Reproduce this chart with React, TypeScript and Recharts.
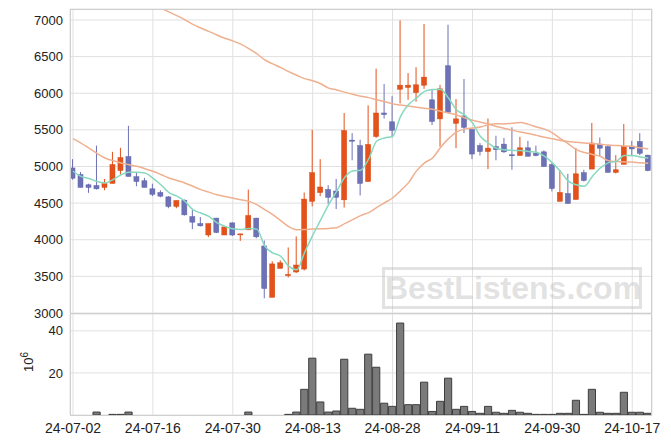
import React from "react";
import {
  ComposedChart, BarChart, Bar, Line, XAxis, YAxis, CartesianGrid,
} from "recharts";

// trading days, 24-07-02 .. 24-10-21
const DATES = [
  "24-07-02", "24-07-03", "24-07-04", "24-07-05", "24-07-08", "24-07-09", "24-07-10", "24-07-11", "24-07-12", "24-07-15",
  "24-07-16", "24-07-17", "24-07-18", "24-07-19", "24-07-22", "24-07-23", "24-07-24", "24-07-25", "24-07-26", "24-07-29",
  "24-07-30", "24-07-31", "24-08-01", "24-08-02", "24-08-05", "24-08-06", "24-08-07", "24-08-08", "24-08-09", "24-08-12",
  "24-08-13", "24-08-14", "24-08-16", "24-08-19", "24-08-20", "24-08-21", "24-08-22", "24-08-23", "24-08-26", "24-08-27",
  "24-08-28", "24-08-29", "24-08-30", "24-09-02", "24-09-03", "24-09-04", "24-09-05", "24-09-06", "24-09-09", "24-09-10",
  "24-09-11", "24-09-12", "24-09-13", "24-09-19", "24-09-20", "24-09-23", "24-09-24", "24-09-25", "24-09-26", "24-09-27",
  "24-09-30", "24-10-02", "24-10-04", "24-10-07", "24-10-08", "24-10-10", "24-10-11", "24-10-14", "24-10-15", "24-10-16",
  "24-10-17", "24-10-18", "24-10-21",
];

const OPEN = [
  4980, 4890, 4750, 4740, 4715, 4770, 4945, 5135, 4860, 4805,
  4695, 4645, 4585, 4455, 4540, 4315, 4220, 4065, 4295, 4065,
  4230, 4075, 4135, 4295, 3915, 3215, 3610, 3510, 3560, 3600,
  4525, 4645, 4685, 4665, 4545, 5360, 5285, 4795, 5410, 5730,
  5610, 6055, 6080, 6010, 6110, 5910, 5650, 6375, 5590, 5690,
  5505, 5285, 5205, 5270, 5305, 5160, 5150, 5255, 5180, 5200,
  5025, 4525, 4630, 4550, 4915, 4965, 5305, 5270, 4920, 5030,
  5270, 5340, 5155,
];
const HIGH = [
  5100, 4925, 4765, 5285, 4830, 5200, 5255, 5555, 4920, 4845,
  4765, 4675, 4595, 4535, 4550, 4405, 4310, 4220, 4300, 4175,
  4240, 4080, 4685, 4300, 3990, 3705, 3720, 3895, 4045, 4645,
  5500, 5100, 4745, 4830, 5730, 5455, 5365, 5835, 6335, 6125,
  5960, 6995, 6275, 6355, 6945, 6050, 6115, 6935, 5920, 6195,
  5505, 5320, 5655, 5420, 5390, 5535, 5405, 5350, 5285, 5220,
  5050, 4950, 4900, 5255, 4955, 5595, 5395, 5290, 5155, 5580,
  5350, 5455, 5160,
];
const LOW = [
  4820, 4715, 4640, 4685, 4675, 4770, 4890, 4865, 4730, 4715,
  4595, 4580, 4430, 4430, 4330, 4145, 4180, 4035, 4090, 4065,
  4050, 3985, 4135, 4020, 3200, 3215, 3610, 3485, 3545, 3580,
  4455, 4595, 4490, 4420, 4440, 5085, 4605, 4795, 5390, 5655,
  5400, 5860, 5910, 5885, 6060, 5565, 5270, 5740, 5250, 5455,
  5100, 5150, 4965, 5085, 5185, 4955, 5150, 5140, 5140, 5000,
  4660, 4525, 4495, 4550, 4795, 4965, 5135, 4920, 4905, 5030,
  5140, 5155, 4935,
];
const CLOSE = [
  4840, 4715, 4715, 4695, 4765, 5025, 5120, 4865, 4795, 4715,
  4620, 4595, 4455, 4535, 4340, 4240, 4190, 4220, 4100, 4175,
  4065, 4080, 4330, 4040, 3335, 3670, 3685, 3525, 3655, 4555,
  4915, 4720, 4580, 4580, 5490, 5345, 4770, 5300, 5730, 5710,
  5495, 6110, 6110, 6115, 6220, 5615, 6060, 5740, 5650, 5535,
  5170, 5205, 5250, 5230, 5200, 5150, 5255, 5140, 5150, 5000,
  4700, 4645, 4495, 4900, 4810, 5320, 5250, 4920, 4955, 5270,
  5240, 5180, 4945,
];

// moving averages as drawn
const MA5 = [
  4935, 4865, 4835, 4795, 4775, 4820, 4885, 4920, 4920, 4910,
  4840, 4750, 4645, 4595, 4525, 4410, 4365, 4320, 4235, 4185,
  4150, 4140, 4155, 4145, 3915, 3820, 3775, 3640, 3590, 3830,
  4060, 4270, 4480, 4660, 4850, 4940, 4950, 5100, 5345, 5390,
  5410, 5685, 5845, 5935, 6025, 6050, 6050, 5935, 5775, 5705,
  5595, 5410, 5320, 5250, 5230, 5220, 5220, 5205, 5195, 5140,
  5050, 4935, 4800, 4750, 4730, 4865, 4980, 5050, 5070, 5150,
  5150, 5130, 5115,
];
const MA20 = [
  5380, 5320, 5250, 5180, 5116, 5080, 5048, 5025, 5002, 4970,
  4934, 4890, 4843, 4810, 4775, 4730, 4684, 4650, 4615, 4590,
  4570, 4545, 4524, 4479, 4410, 4342, 4260, 4180, 4138, 4140,
  4147, 4150, 4155, 4165, 4220, 4274, 4330, 4370, 4440, 4505,
  4570, 4670, 4780, 4940, 5050, 5116, 5260, 5380, 5470, 5510,
  5525, 5540, 5570, 5584, 5580, 5590, 5600, 5575, 5540, 5510,
  5460, 5380, 5310, 5230, 5190, 5165, 5140, 5080, 5068, 5062,
  5060, 5050, 5045,
];
const MA60 = [
  7760, 7710, 7660, 7610, 7560, 7500, 7440, 7380, 7320, 7260,
  7200, 7160, 7110, 7060, 7005, 6940, 6890, 6845, 6795, 6750,
  6715, 6670, 6610, 6540, 6455, 6400, 6350, 6295, 6245, 6200,
  6170, 6130, 6070, 6045, 6015, 5985, 5960, 5940, 5912, 5885,
  5855, 5840, 5825, 5810, 5795, 5780, 5755, 5730, 5705, 5665,
  5630, 5605, 5580, 5545, 5520, 5495, 5470, 5450, 5425, 5400,
  5380, 5355, 5340, 5330, 5320, 5312, 5305, 5292, 5285, 5280,
  5275, 5255, 5240,
];

// volume, millions
const VOLUME = [
  0, 0, 0, 1.4, 0, 0.3, 0.3, 1.4, 0, 0,
  0, 0, 0, 0, 0, 0, 0, 0, 0, 0,
  0, 0, 1.4, 0, 0, 0, 0, 0.3, 1.4, 12.2,
  27.0, 6.2, 1.4, 1.9, 26.5, 3.2, 2.7, 28.9, 22.7, 5.6,
  4.1, 43.7, 4.9, 4.9, 15.6, 1.7, 6.5, 17.5, 2.7, 4.1,
  1.7, 0.8, 4.1, 1.3, 0.8, 2.2, 1.3, 0.8, 0.3, 0.3,
  0.3, 0.8, 0.8, 7.0, 0.3, 12.2, 1.3, 0.8, 0.8, 10.8,
  1.3, 1.3, 0.8,
];

const TICK_IDX = [0, 10, 20, 30, 40, 50, 60, 70];
const PRICE_TICKS = [3000, 3500, 4000, 4500, 5000, 5500, 6000, 6500, 7000];
const VOL_TICKS = [20, 40];

const UP = "#e5511b";
const DOWN = "#6d71b5";
const FONT = "'Liberation Sans', Arial, sans-serif";
const X_DOMAIN: [number, number] = [-0.375, 72.47];

const rows = DATES.map((d, i) => ({
  idx: i,
  date: d,
  open: OPEN[i],
  high: HIGH[i],
  low: LOW[i],
  close: CLOSE[i],
  ma5: MA5[i],
  ma20: MA20[i],
  ma60: MA60[i],
  vol: VOLUME[i],
}));

function Candle(props: any) {
  const { x, y, width, height, payload } = props;
  if (x == null || y == null || !payload) return null;
  const { open, close, high, low } = payload;
  const up = close >= open;
  const color = up ? UP : DOWN;
  const edge = up ? "#d4440f" : "#5c60a8";
  const span = high - low || 1;
  const toY = (v: number) => y + ((high - v) / span) * height;
  const top = toY(Math.max(open, close));
  const bot = toY(Math.min(open, close));
  const cx = x + width / 2;
  return (
    <g>
      <line x1={cx} x2={cx} y1={y} y2={y + height} stroke={color} strokeWidth={1} />
      <rect x={x} y={top} width={width} height={Math.max(1, bot - top)} fill={color} stroke={edge} strokeWidth={0.5} />
    </g>
  );
}

const VolLabel = () => (
  <text transform="translate(33,48) rotate(-90)" textAnchor="middle" fontFamily={FONT} fontSize={13} fill="#222">
    10<tspan dy={-5} fontSize={10}>6</tspan>
  </text>
);

const frame = (left: number, top: number, width: number, height: number): React.CSSProperties => ({
  position: "absolute", left, top, width, height, border: "1px solid #cfcfcf",
  boxSizing: "border-box", pointerEvents: "none",
});

export default function App() {
  return (
    <div style={{ position: "absolute", left: 0, top: 0, width: 671, height: 444, background: "#fff", fontFamily: FONT }}>
      {/* Volume panel */}
      <div style={{ position: "absolute", left: 0, top: 314 }}>
        <BarChart width={671} height={130} data={rows} margin={{ top: 0, right: 19, bottom: 0, left: 0 }}>
          <CartesianGrid stroke="#e0e0e0" />
          <XAxis
            dataKey="idx" type="number" domain={X_DOMAIN} ticks={TICK_IDX} allowDataOverflow interval={0}
            tickFormatter={(i: number) => DATES[i]} height={29}
            axisLine={false} tickLine={false} tickSize={6} tickMargin={2}
            tick={{ fontSize: 14, fill: "#222", fontFamily: FONT }}
          />
          <YAxis
            domain={[0, 48]} ticks={VOL_TICKS} width={70} allowDataOverflow interval={0}
            axisLine={false} tickLine={false} tickSize={5} tickMargin={2}
            tick={{ fontSize: 13, fill: "#222", fontFamily: FONT }}
            label={{ content: <VolLabel /> }}
          />
          <Bar dataKey="vol" barSize={8} fill="#7a7a7a" stroke="#3e3e3e" strokeWidth={1} isAnimationActive={false} />
        </BarChart>
      </div>

      {/* Price panel (drawn on top so the 3000 label is not clipped) */}
      <div style={{ position: "absolute", left: 0, top: 0 }}>
        <ComposedChart width={671} height={324} data={rows} margin={{ top: 9, right: 19, bottom: 11, left: 0 }}>
          <CartesianGrid stroke="#e0e0e0" />
          <XAxis dataKey="idx" type="number" domain={X_DOMAIN} ticks={TICK_IDX} allowDataOverflow hide />
          <YAxis
            domain={[3000, 7150]} ticks={PRICE_TICKS} width={70} allowDataOverflow interval={0}
            axisLine={false} tickLine={false} tickSize={5} tickMargin={2}
            tick={{ fontSize: 13, fill: "#222", fontFamily: FONT }}
          />
          <Bar
            dataKey={(d: any) => [d.low, d.high]} barSize={5}
            shape={<Candle />} isAnimationActive={false}
          />
          <Line type="monotone" dataKey="ma60" stroke="#efb08f" strokeWidth={1.5} dot={false} isAnimationActive={false} />
          <Line type="monotone" dataKey="ma20" stroke="#efb08f" strokeWidth={1.5} dot={false} isAnimationActive={false} />
          <Line type="monotone" dataKey="ma5" stroke="#86d9bf" strokeWidth={1.5} dot={false} isAnimationActive={false} />
        </ComposedChart>
      </div>

      <div style={frame(70, 9, 582, 305)} />
      <div style={frame(70, 313, 582, 103)} />

      {/* watermark */}
      <div style={{
        position: "absolute", left: 382, top: 267, width: 260, height: 42, boxSizing: "border-box",
        border: "3px solid rgba(190,190,190,0.45)", color: "rgba(190,190,190,0.45)",
        fontWeight: "bold", fontSize: 32, lineHeight: "36px", textAlign: "center", letterSpacing: 0,
        pointerEvents: "none",
      }}>
        BestListens.com
      </div>
    </div>
  );
}
